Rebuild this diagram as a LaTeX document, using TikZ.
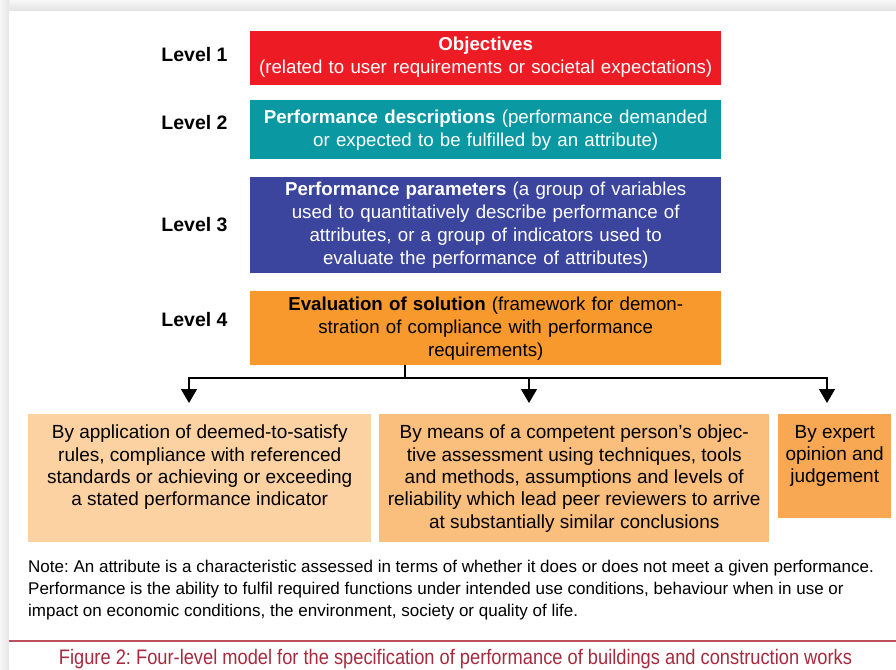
\documentclass[tikz,border=0pt]{standalone}
\usepackage{fontspec}
\setmainfont{Liberation Sans}
\newfontfamily\capfont[FakeStretch=0.87]{Liberation Sans}
\usetikzlibrary{arrows.meta}
\definecolor{cRed}{HTML}{ED1C24}
\definecolor{cTeal}{HTML}{0A98A3}
\definecolor{cBlue}{HTML}{3B459D}
\definecolor{cOrange}{HTML}{F7992D}
\definecolor{cA}{HTML}{FDD2A2}
\definecolor{cB}{HTML}{FABE7D}
\definecolor{cC}{HTML}{F8A852}
\definecolor{cRule}{HTML}{B8505D}
\definecolor{cCap}{HTML}{A62B3F}
\frenchspacing
\begin{document}
\begin{tikzpicture}[x=1pt,y=-1pt,
  lvl/.style={font=\fontsize{19.5}{23}\selectfont\bfseries, inner sep=0},
  topbox/.style={anchor=north west, inner sep=0, minimum width=471pt, text width=471pt,
                 align=center, font=\fontsize{18.7}{23}\selectfont},
  lowbox/.style={anchor=north west, inner sep=0},
  lowtext/.style={anchor=north, inner sep=0, align=center, font=\fontsize{19}{22.3}\selectfont},
  conn/.style={line width=1.3pt, draw=black},
  tip/.style={-{Triangle[width=16pt,length=14pt]}}
]
\useasboundingbox (0,0) rectangle (896,669);
\fill[white] (0,0) rectangle (896,669);
% shadow strips
\shade[top color=gray!6, bottom color=gray!22] (0,0) rectangle (896,11);
\shade[left color=gray!6, right color=gray!20] (0,0) rectangle (9,669);
\fill[white] (9,11) rectangle (896,669);

% level labels
\node[lvl] (l1) at (194.5,55) {Level 1};
\node[lvl] (l2) at (194.5,123) {Level 2};
\node[lvl] (l3) at (194.5,225) {Level 3};
\node[lvl] (l4) at (194.5,320) {Level 4};

% level boxes
\node[topbox, fill=cRed, text=white, minimum height=54pt] (obj) at (250,31)
  {\textbf{Objectives}\\(related to user requirements or societal expectations)\vphantom{p}\vspace{2pt}};
\node[topbox, fill=cTeal, text=white, minimum height=59pt] (desc) at (250,100)
  {\textbf{Performance descriptions} (performance demanded\\or expected to be fulfilled by an attribute)};
\node[topbox, fill=cBlue, text=white, minimum height=96pt] (par) at (250,177)
  {\textbf{Performance parameters} (a group of variables\\used to quantitatively describe performance of\\attributes, or a group of indicators used to\\evaluate the performance of attributes)};
\node[topbox, fill=cOrange, text=black, minimum height=74pt] (ev) at (250,291)
  {\textbf{Evaluation of solution} (framework for demon-\\stration of compliance with performance\\requirements)};

% lower boxes
\node[lowbox, fill=cA, minimum width=343pt, minimum height=128pt] (ba) at (28,414) {};
\node[lowbox, fill=cB, minimum width=390pt, minimum height=128pt] (bb) at (379,414) {};
\node[lowbox, fill=cC, minimum width=113pt, minimum height=104pt] (bc) at (778,414) {};
\node[lowtext] (ta) at ([yshift=-11pt]ba.north)
  {By application of deemed-to-satisfy\\rules, compliance with referenced\\standards or achieving or exceeding\\a stated performance indicator};
\node[lowtext] (tb) at ([yshift=-11pt]bb.north)
  {By means of a competent person’s objec-\\tive assessment using techniques, tools\\and methods, assumptions and levels of\\reliability which lead peer reviewers to arrive\\at substantially similar conclusions};
\node[lowtext] (tc) at ([yshift=-11pt]bc.north)
  {By expert\\opinion and\\judgement};

% connectors
\coordinate (j) at (405,378);
\coordinate (aa) at (189,403);
\coordinate (ab) at (529,403);
\coordinate (ac) at (827,403);
\draw[conn] (ev.south -| j) -- (j);
\draw[conn, tip] (j) -| (aa);
\draw[conn, tip] (j) -| (ab);
\draw[conn, tip] (j) -| (ac);

% note
\node[anchor=north west, inner sep=0, align=left, font=\fontsize{17}{22}\selectfont] (note) at (28,560)
  {Note: An attribute is a characteristic assessed in terms of whether it does or does not meet a given performance.\\
   Performance is the ability to fulfil required functions under intended use conditions, behaviour when in use or\\
   impact on economic conditions, the environment, society or quality of life.};

% rule and caption
\coordinate (rl) at (9,641);
\coordinate (rr) at (896,641);
\draw[cRule, line width=1.5pt] (rl) -- (rr);
\node[anchor=base, inner sep=0, text=cCap, font=\capfont\fontsize{21}{24}\selectfont] (cap) at (455.5,664.5)
  {Figure 2: Four-level model for the specification of performance of buildings and construction works};
\end{tikzpicture}
\end{document}
